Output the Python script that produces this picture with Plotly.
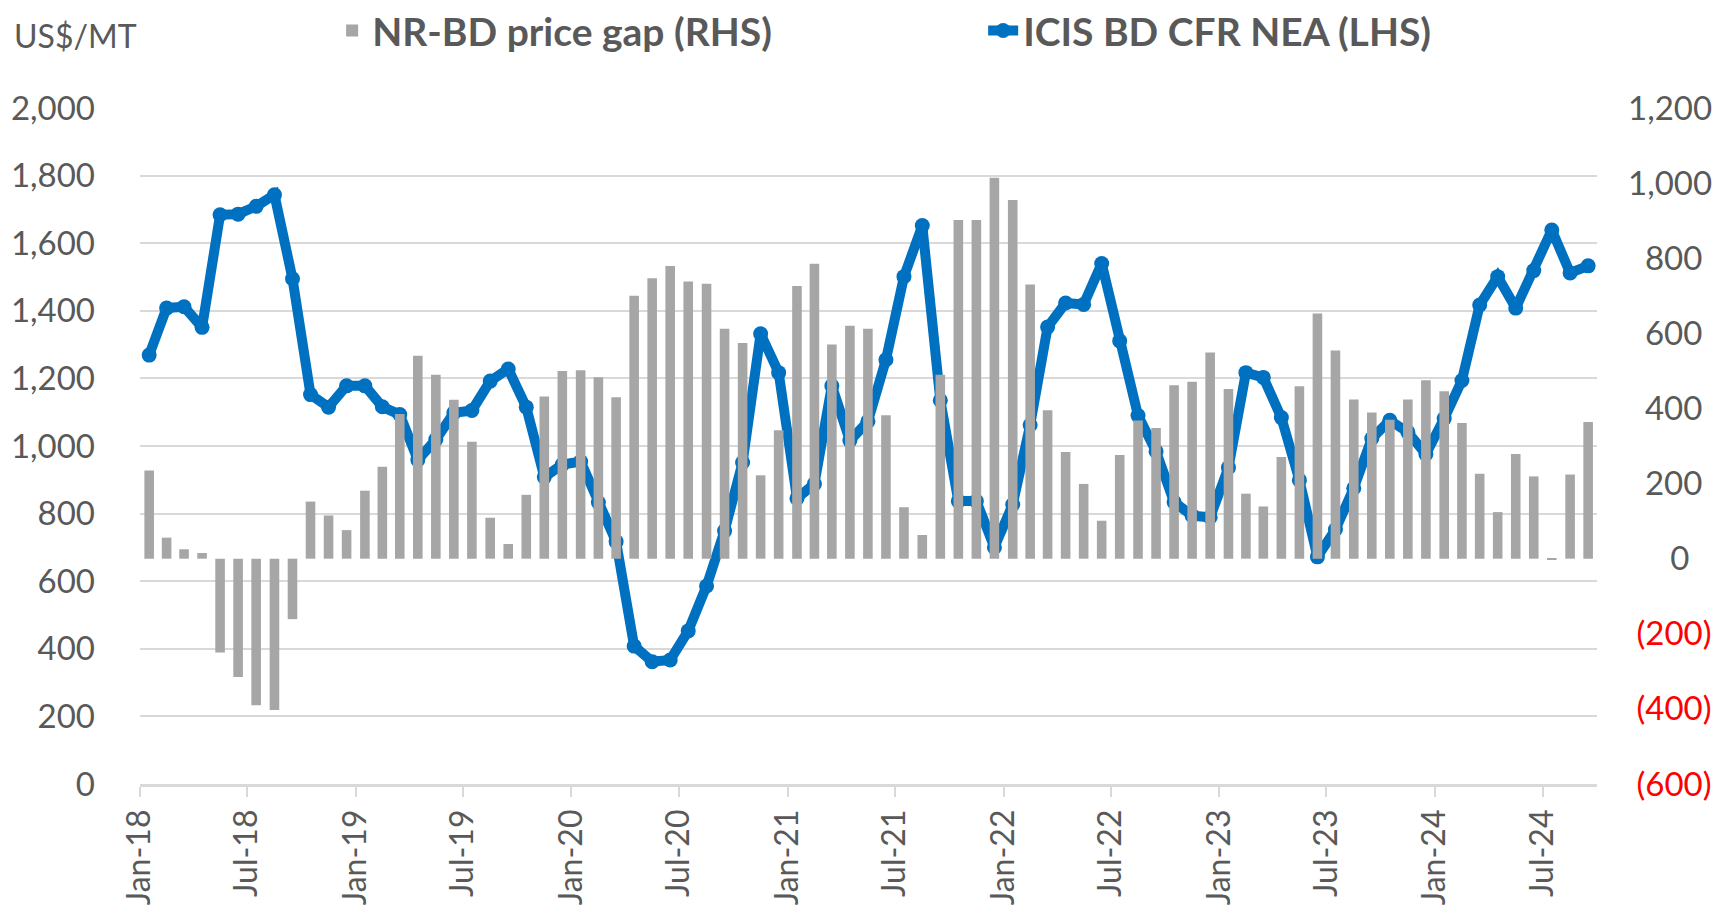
"""ICIS BD CFR NEA price (LHS) vs NR-BD price gap (RHS), monthly Jan-18 to Sep-24."""
import pandas as pd
import plotly.graph_objects as go

COLOR_LINE = "#0070C0"
COLOR_BAR = "#A6A6A6"
COLOR_TEXT = "#595959"
COLOR_GRID = "#D9D9D9"
FONT = "Lato, 'Open Sans', sans-serif"

# monthly observations, Jan-2018 .. Sep-2024
months = pd.date_range("2018-01-01", "2024-09-01", freq="MS")

# ICIS BD CFR NEA, US$/MT (left axis)
bd_price = [
    1269, 1408, 1412, 1351, 1684, 1686, 1709, 1743, 1495, 1152, 1115, 1178,
    1178, 1116, 1093, 959, 1019, 1098, 1105, 1192, 1228, 1115, 908, 945,
    954, 833, 717, 408, 362, 367, 453, 586, 749, 951, 1332, 1217,
    845, 888, 1178, 1016, 1073, 1255, 1501, 1652, 1135, 837, 837, 700,
    827, 1062, 1352, 1423, 1419, 1540, 1311, 1090, 984, 834, 794, 789,
    936, 1217, 1203, 1084, 899, 672, 753, 875, 1022, 1076, 1041, 976,
    1081, 1194, 1417, 1501, 1408, 1519, 1639, 1512, 1533,
]

# NR-BD price gap, US$/MT (right axis)
price_gap = [
    235, 56, 25, 15, -250, -315, -390, -403, -161, 152, 115, 76,
    181, 245, 385, 540, 490, 423, 311, 109, 39, 170, 432, 500,
    502, 483, 430, 700, 747, 779, 738, 732, 612, 574, 222, 342,
    726, 785, 570, 620, 612, 382, 137, 63, 490, 902, 902, 1014,
    955, 730, 395, 284, 199, 101, 276, 368, 348, 462, 471, 549,
    452, 173, 139, 271, 459, 653, 554, 424, 389, 370, 424, 475,
    446, 361, 226, 124, 279, 219, -3, 224, 364,
]

left_ticks = list(range(0, 2001, 200))
right_ticks = list(range(-600, 1201, 200))


def _label_width(s: str) -> float:
    # rough glyph widths (em) for Lato, used only to centre the RHS labels
    w = {",": 0.25, "(": 0.3, ")": 0.3}
    return sum(w.get(c, 0.58) for c in s)


def _rhs_label(v: int) -> str:
    # accounting style: negatives in red parentheses, labels centred
    txt = f"({abs(v):,})" if v < 0 else f"{v:,}"
    pad = round((_label_width("1,200") - _label_width(txt)) / 2 / 0.193)
    txt = "&nbsp;" * max(pad, 0) + txt
    if v < 0:
        return f'<span style="color:#FF0000">{txt}</span>'
    return txt


fig = go.Figure()

fig.add_trace(go.Bar(
    x=months, y=price_gap,
    xperiod="M1", xperiodalignment="middle",
    name="NR-BD price gap (RHS)",
    marker=dict(color=COLOR_BAR, line=dict(width=0)),
    yaxis="y2",
    legend="legend",
    showlegend=True,
))

fig.add_trace(go.Scatter(
    x=months, y=bd_price,
    xperiod="M1", xperiodalignment="middle",
    mode="lines+markers",
    name="ICIS BD CFR NEA (LHS)",
    line=dict(color=COLOR_LINE, width=10),
    marker=dict(color=COLOR_LINE, size=15),
    yaxis="y",
    legend="legend2",
    showlegend=True,
))

tick_font = dict(family=FONT, size=33, color=COLOR_TEXT)
legend_font = dict(family=FONT, size=39, color=COLOR_TEXT, weight="bold")

# the page body adds an 8px margin, so the figure is 8px short each way
fig.update_layout(
    width=1715, height=906,
    margin=dict(l=132, r=126, t=100, b=130, autoexpand=False),
    paper_bgcolor="white", plot_bgcolor="white",
    bargap=0.45,
    showlegend=True,
    font=dict(family=FONT, color=COLOR_TEXT),
    xaxis=dict(
        type="date",
        range=["2018-01-01", "2024-10-01"],
        tick0="2018-01-01", dtick="M6", tickformat="%b-%y",
        tickangle=-90, tickfont=dict(family=FONT, size=32, color=COLOR_TEXT),
        ticks="outside", ticklen=10, tickcolor=COLOR_GRID, tickwidth=1.5,
        showline=True, linecolor=COLOR_GRID, linewidth=2.5,
        showgrid=False, zeroline=False, automargin=False,
    ),
    yaxis=dict(
        range=[0, 2000], tickvals=left_ticks, tickformat=",",
        tickfont=tick_font, ticklabelstandoff=44,
        showgrid=True, gridcolor=COLOR_GRID, gridwidth=1.5,
        zeroline=False, showline=False, automargin=False,
    ),
    yaxis2=dict(
        overlaying="y", side="right",
        range=[-600, 1200], tickvals=right_ticks,
        ticktext=[_rhs_label(v) for v in right_ticks],
        tickfont=tick_font, ticklabelstandoff=30,
        showgrid=False, zeroline=False, showline=False, automargin=False,
    ),
    legend=dict(
        xref="container", yref="container",
        x=0.189, y=0.975, xanchor="left", yanchor="middle",
        orientation="h", font=legend_font, bgcolor="rgba(0,0,0,0)",
    ),
    legend2=dict(
        xref="container", yref="container",
        x=0.5686, y=0.975, xanchor="left", yanchor="middle",
        orientation="h", font=legend_font, bgcolor="rgba(0,0,0,0)",
    ),
    annotations=[dict(
        text="US$/MT", xref="paper", yref="paper",
        x=-0.088, y=1.107, xanchor="left", yanchor="middle",
        showarrow=False, font=dict(family=FONT, size=32, color=COLOR_TEXT),
    )],
)

fig.write_html("out.html")
